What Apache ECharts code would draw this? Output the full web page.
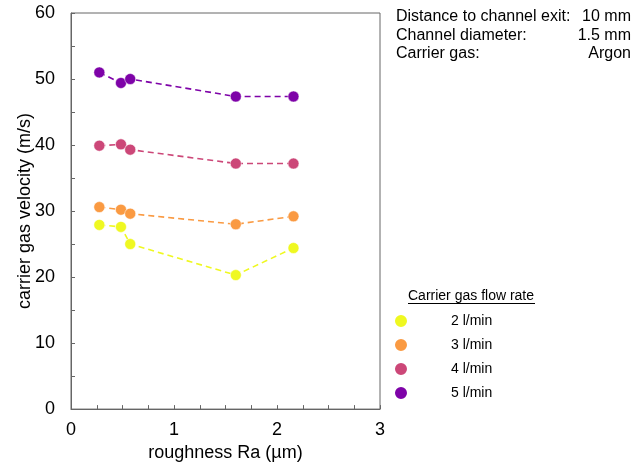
<!DOCTYPE html>
<html><head><meta charset="utf-8">
<script src="https://cdn.jsdelivr.net/npm/echarts@6/dist/echarts.min.js"></script>
<style>html,body{margin:0;padding:0;background:#fff}#c{width:642px;height:467px}</style>
</head><body><div id="c"></div>
<script>
const roughness = [0.275, 0.485, 0.575, 1.60, 2.16];
const seriesNames = ['2 l/min', '3 l/min', '4 l/min', '5 l/min'];
const v2 = [27.9, 27.6, 25.0, 20.3, 24.4];
const v3 = [30.6, 30.2, 29.6, 28.0, 29.2];
const v4 = [39.9, 40.1, 39.3, 37.2, 37.2];
const v5 = [51.0, 49.4, 50.0, 47.35, 47.35];
const colors = ['#eff821', '#fa9a42', '#cc4778', '#7e03a8'];
const infoLabels = ['Distance to channel exit:', 'Channel diameter:', 'Carrier gas:'];
const infoValues = ['10 mm', '1.5 mm', 'Argon'];

const allValues = [v2, v3, v4, v5];
const font = 'Liberation Sans, Arial, sans-serif';
const chart = echarts.init(document.getElementById('c'));
const series = allValues.map((vals, i) => ({
  name: seriesNames[i], type: 'line',
  data: vals.map((v, j) => [roughness[j], v]),
  symbol: 'circle', symbolSize: 11,
  itemStyle: {color: colors[i], borderColor: '#fff', borderWidth: 0.5},
  lineStyle: {color: colors[i], type: [6, 4], width: 1.6},
  emphasis: {disabled: true}, animation: false
}));
const graphics = [];
infoLabels.forEach((t, i) => {
  graphics.push({type: 'text', left: 396, top: 9 + i * 18.5, style: {text: t, font: '16px ' + font, fill: '#000'}});
  graphics.push({type: 'text', right: 11, top: 9 + i * 18.5, style: {text: infoValues[i], font: '16px ' + font, fill: '#000', textAlign: 'right'}});
});
graphics.push({type: 'text', left: 408, top: 289, style: {text: 'Carrier gas flow rate', font: '14px ' + font, fill: '#000'}});
graphics.push({type: 'line', shape: {x1: 408, y1: 303.5, x2: 535, y2: 303.5}, style: {stroke: '#000', lineWidth: 1}});

const intLabel = v => (Math.abs(v - Math.round(v)) < 1e-9 ? String(Math.round(v)) : '');
const tenLabel = v => (v % 10 === 0 ? String(v) : '');

chart.setOption({
  animation: false,
  textStyle: {fontFamily: font},
  grid: {left: 71, top: 13, width: 309, height: 397, show: true, borderColor: '#666', borderWidth: 1},
  xAxis: {
    type: 'value', min: 0, max: 3, interval: 0.25,
    name: 'roughness Ra (µm)', nameLocation: 'middle', nameGap: 33,
    nameTextStyle: {fontSize: 18, color: '#000', fontFamily: font},
    axisLine: {show: true, lineStyle: {color: '#666'}},
    axisTick: {show: true, inside: true, length: 4, lineStyle: {color: '#666'}},
    splitLine: {show: false},
    axisLabel: {fontSize: 18, color: '#000', margin: 12, fontFamily: font, formatter: intLabel, showMinLabel: true, showMaxLabel: true}
  },
  yAxis: {
    type: 'value', min: 0, max: 60, interval: 5,
    name: 'carrier gas velocity (m/s)', nameLocation: 'middle', nameGap: 37, nameRotate: 90,
    nameMoveOverlap: false,
    nameTextStyle: {fontSize: 18, color: '#000', fontFamily: font},
    axisLine: {show: true, lineStyle: {color: '#666'}},
    axisTick: {show: true, inside: true, length: 4, lineStyle: {color: '#666'}},
    splitLine: {show: false},
    axisLabel: {fontSize: 18, color: '#000', margin: 16, fontFamily: font, formatter: tenLabel}
  },
  legend: {
    orient: 'vertical', left: 388, top: 308, itemGap: 8,
    icon: 'circle', itemWidth: 14, itemHeight: 14,
    data: seriesNames,
    textStyle: {fontSize: 14, color: '#000', padding: [0, 0, 0, 38], fontFamily: font}
  },
  graphic: graphics,
  series: series
});
</script></body></html>
